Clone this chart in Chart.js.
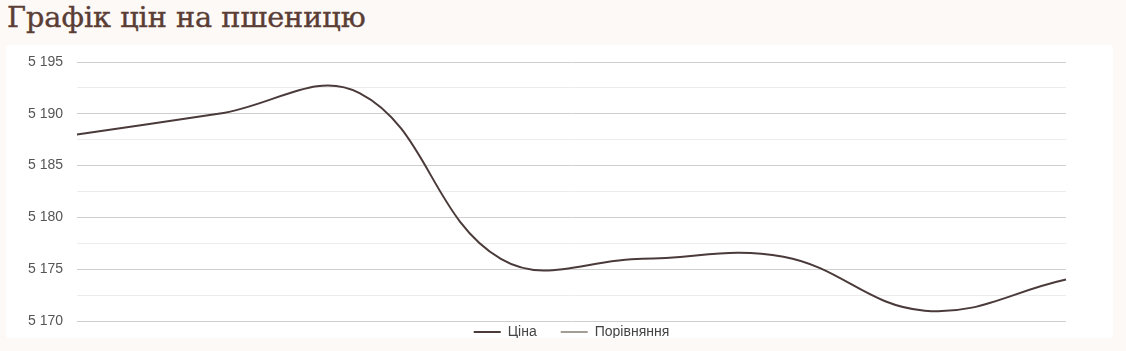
<!DOCTYPE html>
<html>
<head>
<meta charset="utf-8">
<script src="https://cdn.jsdelivr.net/npm/chart.js@4/dist/chart.umd.min.js"></script>
<style>
  html, body { margin: 0; padding: 0; }
  body { width: 1126px; height: 351px; background: #fdf9f6; position: relative; overflow: hidden; }
  #title { position: absolute; left: 7px; top: 0px; font-family: "DejaVu Serif", serif; font-size: 28.7px; line-height: 34px; color: #5a3d35; white-space: nowrap; -webkit-text-stroke: 0.4px #5a3d35; }
  #card { position: absolute; left: 6px; top: 45px; width: 1107px; height: 293px; background: #ffffff; border-radius: 3px; }
  #card canvas { display: block; }
</style>
</head>
<body>
<div id="title">Графік цін на пшеницю</div>
<div id="card"><canvas id="c" width="1107" height="293"></canvas></div>
<script>
const categories = ['1', '2', '3', '4', '5', '6', '7', '8'];
const priceValues = [5188.0, 5190.0, 5192.0, 5176.0, 5176.0, 5176.2, 5171.0, 5174.0];
const compareValues = [];
const seriesNames = ['Ціна', 'Порівняння'];
const yTickValues = [5170, 5175, 5180, 5185, 5190, 5195];
const yTickLabels = ['5 170', '5 175', '5 180', '5 185', '5 190', '5 195'];

const legendShift = {
  id: 'legendShift',
  afterLayout(chart) {
    const lg = chart.legend;
    if (!lg) return;
    lg.top = chart.chartArea.bottom - 20;
    lg.bottom = lg.top + 60;
  }
};

new Chart(document.getElementById('c'), {
  type: 'line',
  data: {
    labels: categories,
    datasets: [
      { label: seriesNames[0], data: priceValues, borderColor: '#4b3a3a', backgroundColor: '#4b3a3a', borderWidth: 2, pointRadius: 0, tension: 0.4, fill: false },
      { label: seriesNames[1], data: compareValues, borderColor: '#a29d95', backgroundColor: '#a29d95', borderWidth: 2, pointRadius: 0, tension: 0.4, fill: false }
    ]
  },
  options: {
    responsive: false,
    animation: false,
    layout: { padding: { top: 17, right: 47, bottom: 0, left: 0 } },
    font: { family: '"Liberation Sans", Arial, sans-serif', size: 14 },
    plugins: {
      tooltip: { enabled: false },
      legend: {
        position: 'bottom',
        fullSize: false,
        maxHeight: 17,
        labels: {
          usePointStyle: true,
          pointStyle: 'line',
          pointStyleWidth: 27,
          padding: 24,
          color: '#444444',
          font: { family: '"Liberation Sans", Arial, sans-serif', size: 14 }
        }
      }
    },
    scales: {
      x: { display: false },
      y: {
        min: 5170,
        max: 5195,
        afterFit(scale) { scale.width = 71; },
        border: { display: false },
        grid: {
          drawTicks: true,
          tickLength: 11,
          tickColor: 'rgba(0,0,0,0)',
          color(ctx) { return (ctx.tick && yTickValues.includes(ctx.tick.value)) ? '#cfcfcf' : '#ececec'; }
        },
        ticks: {
          stepSize: 2.5,
          padding: 3,
          color: '#555555',
          font: { family: '"Liberation Sans", Arial, sans-serif', size: 14 },
          callback(v) { const i = yTickValues.indexOf(v); return i >= 0 ? yTickLabels[i] : ''; }
        }
      }
    }
  },
  plugins: [legendShift]
});
</script>
</body>
</html>
